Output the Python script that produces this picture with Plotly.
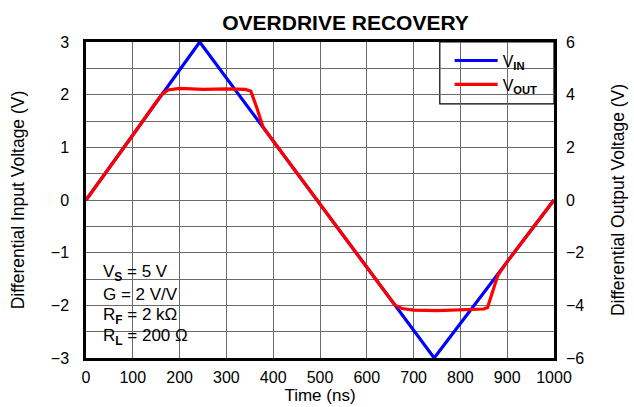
import plotly.graph_objects as go

# Input waveform (left axis, V) vs time (ns)
time_in = [0, 243, 744, 1000]
v_in = [0, 3, -3, 0]

# Output waveform (right axis, V) vs time (ns)
time_out = [0, 50, 100, 150, 163, 175, 200, 250, 300, 340, 352, 365, 378, 400,
            500, 600, 660, 675, 700, 750, 800, 850, 858, 880, 900, 950, 1000]
v_out = [0, 1.22, 2.46, 3.72, 4.02, 4.18, 4.24, 4.20, 4.22, 4.20, 4.14, 3.5, 2.78, 2.24,
         -0.16, -2.55, -3.99, -4.12, -4.18, -4.20, -4.18, -4.14, -4.08, -2.86, -2.34, -1.17, 0]

x_ticks = list(range(0, 1001, 100))
left_ticks = [-3, -2, -1, 0, 1, 2, 3]
right_ticks = [-6, -4, -2, 0, 2, 4, 6]

conditions = [
    "V<sub><b>S</b></sub> = 5 V",
    "G = 2 V/V",
    "R<sub><b>F</b></sub> = 2 kΩ",
    "R<sub><b>L</b></sub> = 200 Ω",
]

FONT = "Liberation Sans, Arial, sans-serif"
GRID = "#6a6a6a"

fig = go.Figure()
fig.add_trace(go.Scatter(x=time_in, y=v_in, mode="lines", name="V<sub><b>IN</b></sub>",
                         line=dict(color="#0000FF", width=3.2)))
fig.add_trace(go.Scatter(x=time_out, y=v_out, mode="lines", name="V<sub><b>OUT</b></sub>",
                         line=dict(color="#FF0000", width=3.2), yaxis="y2"))

# White panel behind the test conditions
fig.add_shape(type="rect", xref="paper", yref="paper", x0=0, x1=0.239, y0=0, y1=0.335,
              fillcolor="white", line=dict(width=0), layer="between")
# Framed panel behind the legend
fig.add_shape(type="rect", xref="paper", yref="paper", x0=0.756, x1=1, y0=0.804, y1=1,
              fillcolor="white", line=dict(color="black", width=1.2), layer="between")

for i, txt in enumerate(conditions):
    fig.add_annotation(xref="paper", yref="paper", x=0.032, y=0.27 - i * 0.068,
                       text=txt, showarrow=False, xanchor="left", yanchor="middle",
                       font=dict(family=FONT, size=17, color="black"))

fig.update_layout(
    width=634, height=407,
    margin=dict(l=86, r=80, t=42, b=49),
    paper_bgcolor="white", plot_bgcolor="white",
    font=dict(family=FONT, size=16, color="black"),
    title=dict(text="<b>OVERDRIVE RECOVERY</b>", x=0.545, xanchor="center",
               y=0.945, yanchor="middle", font=dict(family=FONT, size=21, color="black")),
    showlegend=True,
    legend=dict(x=0.777, y=0.995, xanchor="left", yanchor="top", bgcolor="rgba(0,0,0,0)",
                borderwidth=0, font=dict(family=FONT, size=16),
                tracegroupgap=0, itemwidth=43),
    xaxis=dict(range=[0, 1000], tickvals=x_ticks, showgrid=True, gridcolor=GRID,
               gridwidth=1, showline=True, linecolor="black", linewidth=2.5, mirror=True,
               zeroline=False, ticks="", ticklabelstandoff=3, automargin=False,
               title=dict(text="Time (ns)", standoff=4, font=dict(size=17))),
    yaxis=dict(range=[-3, 3], tickvals=left_ticks, showgrid=True, gridcolor=GRID,
               gridwidth=1, minor=dict(dtick=0.5, showgrid=True, gridcolor=GRID, gridwidth=1),
               showline=True, linecolor="black", linewidth=2.5, mirror=True,
               zeroline=False, ticks="", ticklabelstandoff=11, automargin=False,
               title=dict(text="Differential Input Voltage (V)", standoff=22, font=dict(size=17.5))),
    yaxis2=dict(range=[-6, 6], tickvals=right_ticks, overlaying="y", side="right",
                showgrid=False, zeroline=False, showline=False, ticks="", ticklabelstandoff=11,
                automargin=False,
                title=dict(text="Differential Output Voltage (V)", standoff=28, font=dict(size=17.5))),
)

fig.write_html("out.html")
